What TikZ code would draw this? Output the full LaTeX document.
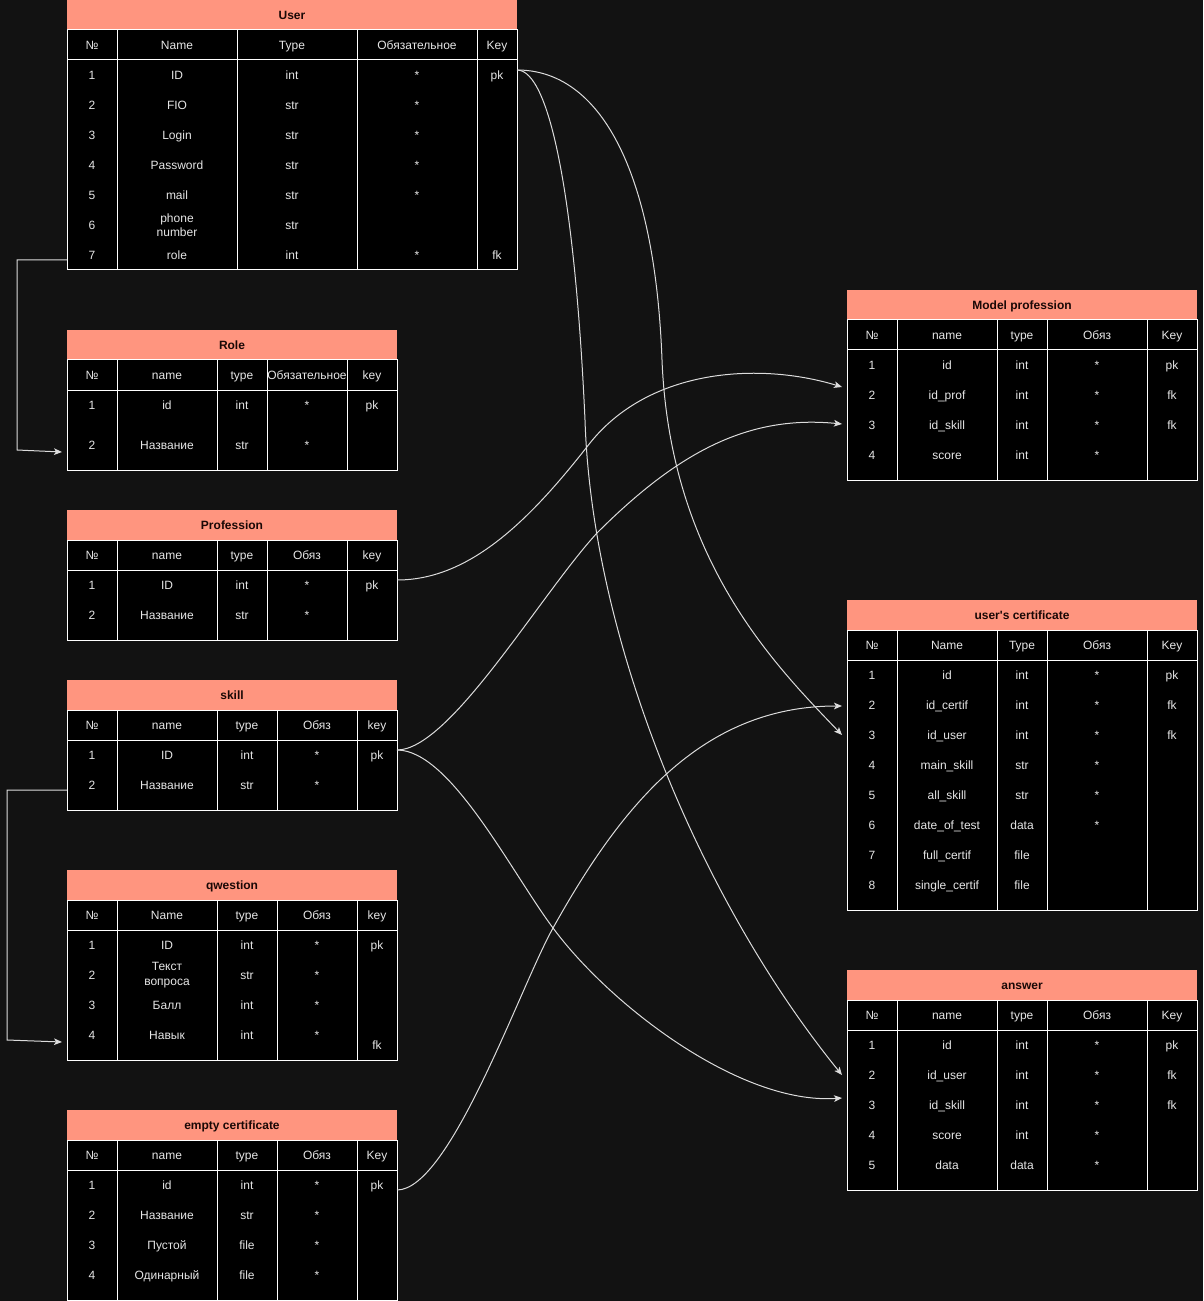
\documentclass[tikz,border=0pt]{standalone}
\usepackage{fontspec}
\setmainfont{Liberation Sans}
\usetikzlibrary{arrows.meta}
\definecolor{bgc}{HTML}{121212}
\definecolor{hdrc}{HTML}{FF957F}
\definecolor{hdrtxt}{HTML}{1A0806}
\definecolor{txtc}{HTML}{E6E6E6}
\definecolor{edgec}{HTML}{DCDCDC}
\tikzset{
  gridline/.style={draw=white, line width=0.75pt},
  titlebox/.style={text=hdrtxt, inner sep=0pt, anchor=base, font=\fontsize{9}{10.5}\selectfont\bfseries},
  cell/.style={text=txtc, inner sep=0pt, anchor=base, font=\fontsize{9}{10.5}\selectfont},
  cell2/.style={text=txtc, inner sep=0pt, anchor=center, align=center, font=\fontsize{9}{10.8}\selectfont},
  conn/.style={draw=edgec, line width=0.75pt, -{Stealth[length=6pt,width=5pt,inset=1.5pt]}},
}
% #1 name, #2 x0, #3 y0, #4 x1, #5 y1, #6 title, #7 column separators
\newcommand\erdtable[7]{%
  \fill[hdrc] (#2,#3) rectangle (#4,#3+30);
  \node[titlebox] (#1) at ({(#2+#4)/2},#3+19.3) {#6};
  \filldraw[fill=black, gridline] (#2,#3+30) rectangle (#4,#5);
  \draw[gridline] (#2,#3+60) -- (#4,#3+60);
  \foreach \sx in {#7} {\draw[gridline] (\sx,#3+30) -- (\sx,#5);}
}
% #1 name prefix, #2 row centre y, #3 list x/text
\newcommand\erdrow[3]{%
  \foreach \cx/\ct [count=\ci] in {#3} {\node[cell] (#1-\ci) at (\cx,#2+4.3) {\ct};}
}
\begin{document}
\begin{tikzpicture}[x=0.75pt, y=-0.75pt]
\fill[bgc] (0,0) rectangle (1203,1301);
\useasboundingbox (0,0) rectangle (1203,1301);

% ---------- User ----------
\erdtable{user}{67}{0}{517}{270}{User}{117,237,357,477}
\erdrow{user-h}{45}{92/№,177/Name,292/Type,417/Обязательное,497/Key}
\erdrow{user-r1}{75}{92/1,177/ID,292/int,417/*,497/pk}
\erdrow{user-r2}{105}{92/2,177/FIO,292/str,417/*}
\erdrow{user-r3}{135}{92/3,177/Login,292/str,417/*}
\erdrow{user-r4}{165}{92/4,177/Password,292/str,417/*}
\erdrow{user-r5}{195}{92/5,177/mail,292/str,417/*}
\erdrow{user-r6}{225}{92/6,292/str}
\node[cell2] (user-r6-name) at (177,225) {phone\\number};
\erdrow{user-r7}{255}{92/7,177/role,292/int,417/*,497/fk}

% ---------- Role ----------
\erdtable{role}{67}{330}{397}{470}{Role}{117,217,267,347}
\erdrow{role-h}{375}{92/№,167/name,242/type,307/Обязательное,372/key}
\erdrow{role-r1}{405}{92/1,167/id,242/int,307/*,372/pk}
\erdrow{role-r2}{445}{92/2,167/Название,242/str,307/*}

% ---------- Profession ----------
\erdtable{prof}{67}{510}{397}{640}{Profession}{117,217,267,347}
\erdrow{prof-h}{555}{92/№,167/name,242/type,307/Обяз,372/key}
\erdrow{prof-r1}{585}{92/1,167/ID,242/int,307/*,372/pk}
\erdrow{prof-r2}{615}{92/2,167/Название,242/str,307/*}

% ---------- skill ----------
\erdtable{skill}{67}{680}{397}{810}{skill}{117,217,277,357}
\erdrow{skill-h}{725}{92/№,167/name,247/type,317/Обяз,377/key}
\erdrow{skill-r1}{755}{92/1,167/ID,247/int,317/*,377/pk}
\erdrow{skill-r2}{785}{92/2,167/Название,247/str,317/*}

% ---------- qwestion ----------
\erdtable{qw}{67}{870}{397}{1060}{qwestion}{117,217,277,357}
\erdrow{qw-h}{915}{92/№,167/Name,247/type,317/Обяз,377/key}
\erdrow{qw-r1}{945}{92/1,167/ID,247/int,317/*,377/pk}
\erdrow{qw-r2}{975}{92/2,247/str,317/*}
\node[cell2] (qw-r2-name) at (167,975) {Текст\\вопроса};
\erdrow{qw-r3}{1005}{92/3,167/Балл,247/int,317/*}
\erdrow{qw-r4}{1035}{92/4,167/Навык,247/int,317/*}
\node[cell] (qw-r4-key) at (377,1049.3) {fk};

% ---------- empty certificate ----------
\erdtable{empty}{67}{1110}{397}{1300}{empty certificate}{117,217,277,357}
\erdrow{empty-h}{1155}{92/№,167/name,247/type,317/Обяз,377/Key}
\erdrow{empty-r1}{1185}{92/1,167/id,247/int,317/*,377/pk}
\erdrow{empty-r2}{1215}{92/2,167/Название,247/str,317/*}
\erdrow{empty-r3}{1245}{92/3,167/Пустой,247/file,317/*}
\erdrow{empty-r4}{1275}{92/4,167/Одинарный,247/file,317/*}

% ---------- Model profession ----------
\erdtable{mp}{847}{290}{1197}{480}{Model profession}{897,997,1047,1147}
\erdrow{mp-h}{335}{872/№,947/name,1022/type,1097/Обяз,1172/Key}
\erdrow{mp-r1}{365}{872/1,947/id,1022/int,1097/*,1172/pk}
\erdrow{mp-r2}{395}{872/2,947/id\_prof,1022/int,1097/*,1172/fk}
\erdrow{mp-r3}{425}{872/3,947/id\_skill,1022/int,1097/*,1172/fk}
\erdrow{mp-r4}{455}{872/4,947/score,1022/int,1097/*}

% ---------- user's certificate ----------
\erdtable{uc}{847}{600}{1197}{910}{user\textquotesingle s certificate}{897,997,1047,1147}
\erdrow{uc-h}{645}{872/№,947/Name,1022/Type,1097/Обяз,1172/Key}
\erdrow{uc-r1}{675}{872/1,947/id,1022/int,1097/*,1172/pk}
\erdrow{uc-r2}{705}{872/2,947/id\_certif,1022/int,1097/*,1172/fk}
\erdrow{uc-r3}{735}{872/3,947/id\_user,1022/int,1097/*,1172/fk}
\erdrow{uc-r4}{765}{872/4,947/main\_skill,1022/str,1097/*}
\erdrow{uc-r5}{795}{872/5,947/all\_skill,1022/str,1097/*}
\erdrow{uc-r6}{825}{872/6,947/date\_of\_test,1022/data,1097/*}
\erdrow{uc-r7}{855}{872/7,947/full\_certif,1022/file}
\erdrow{uc-r8}{885}{872/8,947/single\_certif,1022/file}

% ---------- answer ----------
\erdtable{ans}{847}{970}{1197}{1190}{answer}{897,997,1047,1147}
\erdrow{ans-h}{1015}{872/№,947/name,1022/type,1097/Обяз,1172/Key}
\erdrow{ans-r1}{1045}{872/1,947/id,1022/int,1097/*,1172/pk}
\erdrow{ans-r2}{1075}{872/2,947/id\_user,1022/int,1097/*,1172/fk}
\erdrow{ans-r3}{1105}{872/3,947/id\_skill,1022/int,1097/*,1172/fk}
\erdrow{ans-r4}{1135}{872/4,947/score,1022/int,1097/*}
\erdrow{ans-r5}{1165}{872/5,947/data,1022/data,1097/*}

% ---------- ports ----------
\coordinate (userpk) at (517,70);
\coordinate (userrole) at (67,260);
\coordinate (role2in) at (62,452);
\coordinate (profpk) at (397,580);
\coordinate (skillpk) at (397,750);
\coordinate (skillname) at (67,790);
\coordinate (qw4in) at (62,1042);
\coordinate (emptypk) at (397,1190);
\coordinate (mpprof) at (842,387);
\coordinate (mpskill) at (842,424);
\coordinate (uccertif) at (842,706);
\coordinate (ucuser) at (842,735);
\coordinate (ansuser) at (842,1075);
\coordinate (ansskill) at (842,1098);

% ---------- connectors ----------
\draw[conn] (userrole) -- ++(-50,0) -- ++(0,190) -- (role2in);
\draw[conn] (skillname) -- ++(-60,0) -- ++(0,250) -- (qw4in);
\draw[conn] (userpk) .. controls (600,70) and (655,170) .. (662,360) .. controls (670,560) and (775,665) .. (ucuser);
\draw[conn] (userpk) .. controls (550,70) and (575,200) .. (585,420) .. controls (592,640) and (700,900) .. (ansuser);
\draw[conn] (profpk) .. controls (470,580) and (530,520) .. (590,443) .. controls (650,368) and (760,362) .. (mpprof);
\draw[conn] (skillpk) .. controls (450,750) and (540,595) .. (597,533) .. controls (680,450) and (750,415) .. (mpskill);
\draw[conn] (skillpk) .. controls (450,750) and (510,870) .. (553,928) .. controls (610,1005) and (740,1105) .. (ansskill);
\draw[conn] (emptypk) .. controls (450,1190) and (520,987) .. (553,928) .. controls (620,808) and (700,706) .. (uccertif);
\end{tikzpicture}
\end{document}
